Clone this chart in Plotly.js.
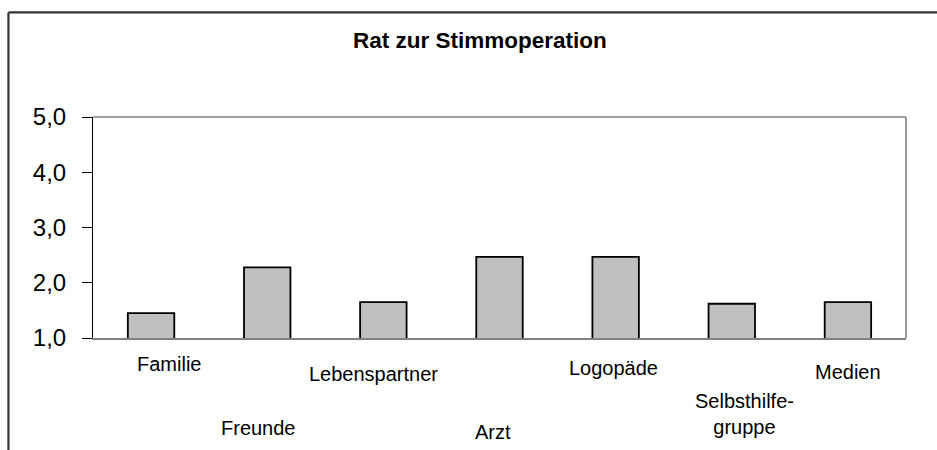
<!DOCTYPE html>
<html>
<head>
<meta charset="utf-8">
<script src="https://cdn.plot.ly/plotly-3.0.1.min.js"></script>
<style>html,body{margin:0;padding:0;background:#fff;}#chart{width:937px;height:450px;}</style>
</head>
<body>
<div id="chart"></div>
<script>
// ---- data ----
const categories = ["Familie", "Freunde", "Lebenspartner", "Arzt", "Logopäde", "Selbsthilfe-<br>gruppe", "Medien"];
const values = [1.45, 2.28, 1.65, 2.47, 2.47, 1.62, 1.65];
const tickValues = [1, 2, 3, 4, 5];
const tickLabels = ["1,0", "2,0", "3,0", "4,0", "5,0"];
const chartTitle = "Rat zur Stimmoperation";

// ---- label placement (style, not data) ----
const labelXShift = [18, -9, -10, -7, -2, 13, 0];
const labelYOffset = [26, 90, 36, 94, 30, 76, 34];

const FONT = "Arial, 'Liberation Sans', sans-serif";

const trace = {
  type: "bar",
  x: categories,
  y: values,
  width: 0.4,
  marker: { color: "#c0c0c0", line: { color: "#000000", width: 1.8 } },
  hoverinfo: "none"
};

const annotations = categories.map((c, i) => ({
  x: c, xref: "x",
  y: 0, yref: "paper",
  yanchor: "middle", xanchor: "center",
  xshift: labelXShift[i], yshift: -labelYOffset[i],
  text: c, showarrow: false,
  font: { family: FONT, size: 20, color: "#000" }
}));

annotations.push({
  x: 0.4765, xref: "paper", y: 1.345, yref: "paper",
  xanchor: "center", yanchor: "middle",
  text: "<b>" + chartTitle + "</b>", showarrow: false,
  font: { family: FONT, size: 22.5, color: "#000" }
});

const layout = {
  width: 937, height: 450,
  margin: { l: 93, r: 31, t: 117, b: 112 },
  paper_bgcolor: "#fff", plot_bgcolor: "#fff",
  showlegend: false,
  bargap: 0.6,
  xaxis: {
    type: "category",
    showticklabels: false,
    ticks: "",
    showline: true, linecolor: "#808080", linewidth: 1.6,
    showgrid: false, zeroline: false, fixedrange: true
  },
  yaxis: {
    range: [1, 5],
    tickvals: tickValues, ticktext: tickLabels,
    ticks: "outside", ticklen: 10, tickwidth: 1, tickcolor: "#000",
    ticklabelstandoff: 11,
    tickfont: { family: FONT, size: 24, color: "#000" },
    showline: true, linecolor: "#000", linewidth: 1,
    showgrid: false, zeroline: false, fixedrange: true
  },
  shapes: [
    // plot area border (top and right, gray)
    { type: "line", xref: "paper", yref: "paper", x0: 0, x1: 1, y0: 1, y1: 1, line: { color: "#808080", width: 1.6 } },
    { type: "line", xref: "paper", yref: "paper", x0: 1, x1: 1, y0: 0, y1: 1, line: { color: "#808080", width: 1.6 } },
    // outer chart frame (left and top, dark)
    { type: "line", xref: "paper", yref: "paper", x0: -0.104, x1: -0.104, y0: -0.6, y1: 1.473, line: { color: "#333", width: 2.2 } },
    { type: "line", xref: "paper", yref: "paper", x0: -0.104, x1: 1.1, y0: 1.473, y1: 1.473, line: { color: "#333", width: 2.2 } }
  ],
  annotations: annotations
};

Plotly.newPlot("chart", [trace], layout, { displayModeBar: false, staticPlot: true });
</script>
</body>
</html>
